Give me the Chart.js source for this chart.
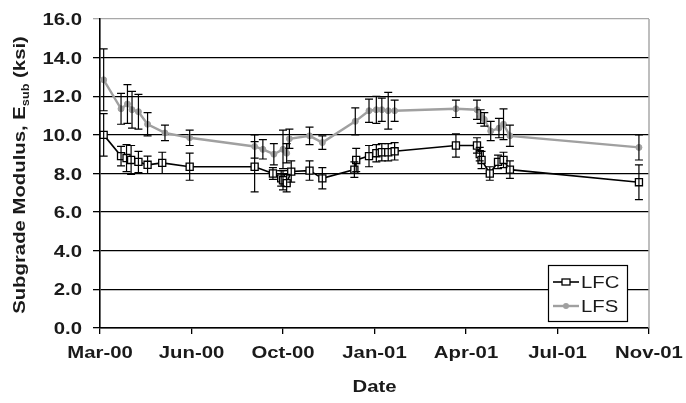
<!DOCTYPE html>
<html>
<head>
<meta charset="utf-8">
<script src="https://cdn.jsdelivr.net/npm/chart.js@4"></script>
<style>
  html, body { margin: 0; padding: 0; background: #fff; }
  #wrap { width: 686px; height: 403px; position: relative; }
</style>
</head>
<body>
<div id="wrap"><canvas id="chart"></canvas></div>
<script>
// axis origin and ticks (100-day steps)
const axisStart = "2000-03-15";
const xTickLabels = ["Mar-00", "Jun-00", "Oct-00", "Jan-01", "Apr-01", "Jul-01", "Nov-01"];
const yTickMax = 16;

// LFC series
const lfcDates = ["2000-03-19","2000-04-07","2000-04-13","2000-04-18","2000-04-26","2000-05-06","2000-05-22","2000-06-21",
  "2000-08-31","2000-09-20","2000-09-29","2000-10-01","2000-10-05","2000-10-10","2000-10-30","2000-11-13",
  "2000-12-18","2000-12-20","2001-01-03","2001-01-11","2001-01-17","2001-01-24","2001-01-31",
  "2001-04-08","2001-05-01","2001-05-04","2001-05-06","2001-05-15","2001-05-24","2001-05-30","2001-06-06","2001-10-25"];
const lfcValues = [10.0, 8.9, 8.8, 8.7, 8.6, 8.45, 8.55, 8.35,
  8.35, 8.0, 7.75, 7.65, 7.5, 8.1, 8.15, 7.75,
  8.2, 8.7, 8.9, 9.05, 9.1, 9.1, 9.15,
  9.45, 9.45, 9.0, 8.7, 8.0, 8.6, 8.7, 8.2, 7.55];
const lfcErr = [1.1, 0.5, 0.7, 0.75, 0.55, 0.45, 0.55, 0.7,
  1.3, 0.3, 0.4, 0.5, 0.45, 0.55, 0.5, 0.55,
  0.4, 0.6, 0.55, 0.45, 0.45, 0.45, 0.45,
  0.6, 0.4, 0.35, 0.45, 0.35, 0.35, 0.4, 0.45, 0.9];

// LFS series
const lfsDates = ["2000-03-19","2000-04-07","2000-04-14","2000-04-19","2000-04-26","2000-05-06","2000-05-25","2000-06-21",
  "2000-08-31","2000-09-09","2000-09-21","2000-10-01","2000-10-05","2000-10-08","2000-10-30","2000-11-13",
  "2000-12-19","2001-01-03","2001-01-11","2001-01-17","2001-01-24","2001-01-31",
  "2001-04-08","2001-05-01","2001-05-05","2001-05-09","2001-05-16","2001-05-25","2001-05-30","2001-06-06","2001-10-25"];
const lfsValues = [12.85, 11.35, 11.6, 11.3, 11.2, 10.55, 10.1, 9.85,
  9.4, 9.25, 9.0, 9.25, 9.05, 9.8, 9.95, 9.6,
  10.7, 11.25, 11.3, 11.3, 11.25, 11.25,
  11.35, 11.3, 10.95, 10.8, 10.2, 10.35, 10.55, 9.95, 9.35];
const lfsErr = [1.6, 0.8, 1.0, 0.95, 0.9, 0.6, 0.4, 0.4,
  0.6, 0.5, 0.55, 1.0, 0.5, 0.5, 0.45, 0.35,
  0.7, 0.6, 0.7, 0.6, 0.95, 0.55,
  0.45, 0.5, 0.35, 0.35, 0.5, 0.5, 0.8, 0.55, 0.65];

const dayOf = d => (Date.parse(d) - Date.parse(axisStart)) / 86400000;
const toPoints = (dates, vals) => dates.map((d, i) => ({ x: dayOf(d), y: vals[i] }));

const FONT = "'Liberation Sans', Arial, sans-serif";
const STRETCH = 1.27;   // the source text is drawn wide
const TEXT = "#1a1a1a";
const errs = [lfcErr, lfsErr];

// text drawn wider along its baseline
function wideText(ctx, str, x, y, align, font) {
  ctx.save();
  ctx.font = font;
  const w = ctx.measureText(str).width * STRETCH;
  const left = align === "center" ? x - w / 2 : align === "right" ? x - w : x;
  ctx.translate(left, y);
  ctx.scale(STRETCH, 1);
  ctx.textAlign = "left";
  ctx.textBaseline = "alphabetic";
  ctx.fillText(str, 0, 0);
  ctx.restore();
  return w;
}

// error bars, drawn with the chart's own scales
const errorBars = {
  id: "errorBars",
  afterDatasetsDraw(chart) {
    const { ctx, scales: { x, y } } = chart;
    ctx.save();
    ctx.strokeStyle = "#000";
    ctx.lineWidth = 1.2;
    chart.data.datasets.forEach((ds, di) => {
      ds.data.forEach((p, i) => {
        const e = errs[di][i];
        const px = x.getPixelForValue(p.x);
        const top = y.getPixelForValue(p.y + e);
        const bot = y.getPixelForValue(p.y - e);
        ctx.beginPath();
        ctx.moveTo(px, top); ctx.lineTo(px, bot);
        ctx.moveTo(px - 4, top); ctx.lineTo(px + 4, top);
        ctx.moveTo(px - 4, bot); ctx.lineTo(px + 4, bot);
        ctx.stroke();
      });
    });
    ctx.restore();
  }
};

// frame, tick labels, titles and legend box
const decorations = {
  id: "decorations",
  afterDraw(chart) {
    const { ctx, chartArea: a, scales: { x, y } } = chart;
    ctx.save();
    // right border
    ctx.strokeStyle = "#a8a8a8";
    ctx.lineWidth = 1.5;
    ctx.beginPath();
    ctx.moveTo(a.right, a.top); ctx.lineTo(a.right, a.bottom);
    ctx.stroke();

    ctx.fillStyle = TEXT;
    const bold = "bold 16px " + FONT;
    // tick labels
    x.ticks.forEach(t => {
      wideText(ctx, xTickLabels[Math.round(t.value / 100)], x.getPixelForValue(t.value), 358, "center", bold);
    });
    y.ticks.forEach(t => {
      wideText(ctx, t.value.toFixed(1), 82, y.getPixelForValue(t.value) + 6, "right", bold);
    });

    // x title
    wideText(ctx, "Date", (a.left + a.right) / 2, 392, "center", bold);

    // y title with subscript
    ctx.save();
    ctx.translate(25, 175);
    ctx.rotate(-Math.PI / 2);
    const p1 = "Subgrade Modulus, E", sub = "sub", p2 = " (ksi)";
    const subFont = "bold 10px " + FONT;
    ctx.font = bold;
    const w1 = ctx.measureText(p1).width * STRETCH, w3 = ctx.measureText(p2).width * STRETCH;
    ctx.font = subFont;
    const w2 = ctx.measureText(sub).width * STRETCH;
    const sx = -(w1 + w2 + w3) / 2;
    wideText(ctx, p1, sx, 0, "left", bold);
    wideText(ctx, sub, sx + w1, 4, "left", subFont);
    wideText(ctx, p2, sx + w1 + w2, 0, "left", bold);
    ctx.restore();

    // legend
    ctx.fillStyle = "#fff";
    ctx.fillRect(548, 265, 80, 57);
    ctx.strokeStyle = "#000";
    ctx.lineWidth = 1.2;
    ctx.strokeRect(548.5, 265.5, 79, 56);
    chart.data.datasets.forEach((ds, i) => {
      const ly = 282 + i * 24;
      ctx.strokeStyle = ds.borderColor;
      ctx.lineWidth = ds.borderWidth;
      ctx.beginPath();
      ctx.moveTo(553, ly); ctx.lineTo(579, ly);
      ctx.stroke();
      ctx.lineWidth = 1.3;
      if (ds.pointStyle === "rect") {
        ctx.fillStyle = "#fff";
        ctx.fillRect(562, ly - 3, 8, 6);
        ctx.strokeStyle = "#000";
        ctx.strokeRect(562, ly - 3, 8, 6);
      } else {
        ctx.fillStyle = ds.pointBackgroundColor;
        ctx.beginPath();
        ctx.arc(566, ly, 3, 0, Math.PI * 2);
        ctx.fill();
      }
      ctx.fillStyle = TEXT;
      wideText(ctx, ds.label, 581, ly + 6, "left", "16px " + FONT);
    });
    ctx.restore();
  }
};

new Chart(document.getElementById("chart"), {
  type: "line",
  data: {
    datasets: [
      {
        label: "LFC",
        data: toPoints(lfcDates, lfcValues),
        borderColor: "#000",
        borderWidth: 1.6,
        pointStyle: "rect",
        pointRadius: 5,
        pointBorderWidth: 1.3,
        pointBorderColor: "#000",
        pointBackgroundColor: "#fff",
        order: 1
      },
      {
        label: "LFS",
        data: toPoints(lfsDates, lfsValues),
        borderColor: "#a0a0a0",
        borderWidth: 2.4,
        pointStyle: "circle",
        pointRadius: 3,
        pointBorderWidth: 1,
        pointBorderColor: "#a0a0a0",
        pointBackgroundColor: "#a0a0a0",
        order: 2
      }
    ]
  },
  options: {
    responsive: true,
    maintainAspectRatio: false,
    animation: false,
    layout: { padding: { top: 19, right: 37, left: 0, bottom: 0 } },
    plugins: { legend: { display: false }, tooltip: { enabled: false } },
    scales: {
      x: {
        type: "linear",
        min: 0,
        max: 600,
        afterFit: s => { s.height = 75; },
        ticks: { stepSize: 100, autoSkip: false, maxRotation: 0, display: false },
        grid: { drawOnChartArea: false, color: "#000", lineWidth: 1.3, tickLength: 6 },
        border: { color: "#000", width: 1.6 }
      },
      y: {
        min: 0,
        max: yTickMax,
        afterFit: s => { s.width = 100; },
        ticks: { stepSize: 2, display: false },
        grid: {
          color: c => (c.tick && c.tick.value === yTickMax ? "#a8a8a8" : "#000"),
          lineWidth: 1.3,
          tickLength: 7
        },
        border: { color: "#000", width: 1.6 }
      }
    }
  },
  plugins: [errorBars, decorations]
});
</script>
</body>
</html>
